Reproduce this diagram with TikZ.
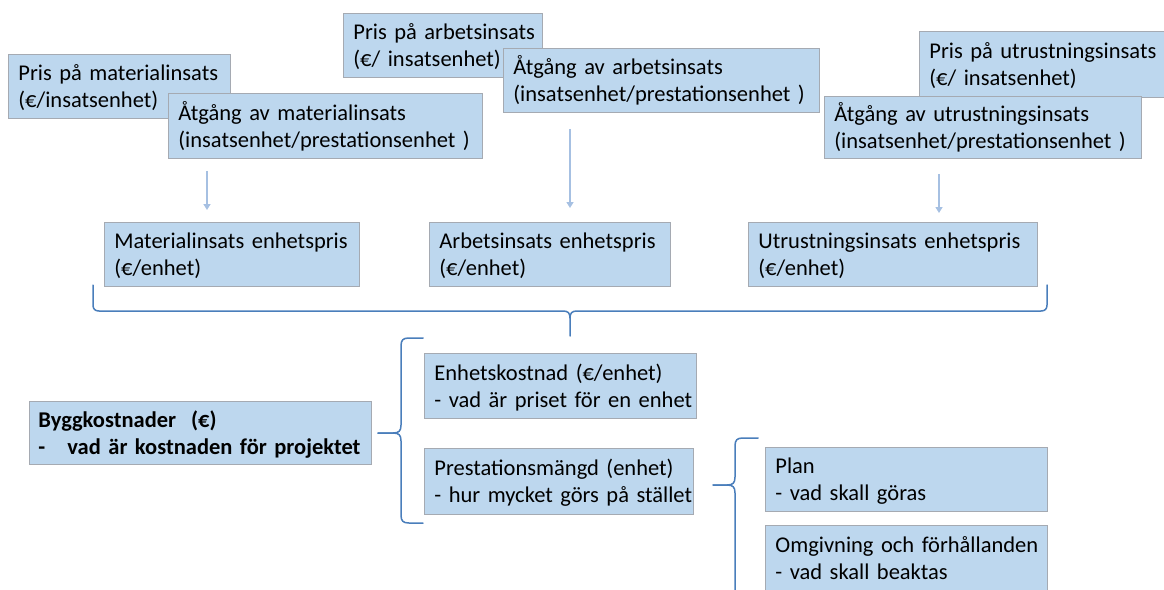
\documentclass[tikz,border=0pt]{standalone}
\usepackage{fontspec}
\setmainfont{Carlito}
\usetikzlibrary{arrows.meta}
\definecolor{boxfill}{RGB}{189,215,238}
\definecolor{boxline}{RGB}{165,170,178}
\definecolor{arrowc}{RGB}{166,192,226}
\definecolor{bracec}{RGB}{74,126,187}
% two left-aligned lines that never wrap
\newcommand{\boxlines}[2]{\begin{tabular}{@{}l@{}}\rule{0pt}{24pt}#1\\#2\end{tabular}}

\begin{document}
\begin{tikzpicture}[x=1pt,y=-1pt,
  box/.style={draw=boxline, fill=boxfill, line width=0.8pt, anchor=north west,
    inner xsep=10pt, inner ysep=0pt,
    font=\fontsize{22.5}{27}\selectfont},
  arr/.style={draw=arrowc, line width=1.6pt, -{Triangle[length=6pt,width=7pt]}},
  brc/.style={draw=bracec, line width=1.5pt, line cap=round, line join=round}]
\useasboundingbox (0,0) rectangle (1164,589);
\clip (0,0) rectangle (1164,589);

% --- inputs: price and consumption per resource
\node[box, text width=202pt, minimum height=64pt] (prM) at (8,54)
  {\boxlines{Pris på materialinsats}{(€/insatsenhet)}};
\node[box, text width=294pt, minimum height=65pt] (atgM) at (168,93)
  {\boxlines{Åtgång av materialinsats}{(insatsenhet/prestationsenhet )}};

\node[box, text width=179pt, minimum height=64pt] (prA) at (343,13)
  {\boxlines{Pris på arbetsinsats}{(€/ insatsenhet)}};
\node[box, text width=296pt, minimum height=64pt] (atgA) at (503,48)
  {\boxlines{Åtgång av arbetsinsats}{(insatsenhet/prestationsenhet )}};

\node[box, text width=233pt, minimum height=66pt] (prU) at (919,31)
  {\boxlines{Pris på utrustningsinsats}{(€/ insatsenhet)}};
\node[box, text width=297pt, minimum height=62pt] (atgU) at (824,96)
  {\boxlines{Åtgång av utrustningsinsats}{(insatsenhet/prestationsenhet )}};

% --- unit prices
\node[box, text width=235pt, minimum height=64pt] (encM) at (104,222)
  {\boxlines{Materialinsats enhetspris}{(€/enhet)}};
\node[box, text width=221pt, minimum height=64pt] (encA) at (429,222)
  {\boxlines{Arbetsinsats enhetspris}{(€/enhet)}};
\node[box, text width=269pt, minimum height=64pt] (encU) at (748,222)
  {\boxlines{Utrustningsinsats enhetspris}{(€/enhet)}};

% --- cost breakdown
\node[box, text width=324pt, inner xsep=9pt, minimum height=63pt] (bygg) at (29,401)
  {\bfseries\boxlines{Byggkostnader\ \ (€)}{\makebox[29pt][l]{-}vad är kostnaden för projektet}};
\node[box, text width=252pt, minimum height=65pt] (enhk) at (424,353)
  {\boxlines{Enhetskostnad (€/enhet)}{- vad är priset för en enhet}};
\node[box, text width=249pt, minimum height=66pt] (prest) at (424,448)
  {\boxlines{Prestationsmängd (enhet)}{- hur mycket görs på stället}};
\node[box, text width=262pt, minimum height=64pt] (plan) at (765,447)
  {\boxlines{Plan}{- vad skall göras}};
\node[box, text width=262pt, minimum height=66pt] (omg) at (765,525)
  {\boxlines{Omgivning och förhållanden}{- vad skall beaktas}};

% --- arrows from consumption to unit price
\draw[arr] ([shift={(39,12)}]atgM.south west) -- ([shift={(103,-12)}]encM.north west);
\draw[arr] ([shift={(67,16)}]atgA.south west) -- ([shift={(141,-14)}]encA.north west);
\draw[arr] ([shift={(115,15)}]atgU.south west) -- ([shift={(191,-9)}]encU.north west);

% --- horizontal brace under the unit prices
\draw[brc] (93,285) -- (93,305) .. controls (93,309) and (95,311) .. (99,311)
  -- (563,311) .. controls (568,311) and (570,313) .. (570,318) -- (570,336);
\draw[brc] (570,318) .. controls (570,313) and (572,311) .. (577,311)
  -- (1041,311) .. controls (1045,311) and (1047,309) .. (1047,305) -- (1047,285);

% --- brace: construction cost = unit cost x quantity
\draw[brc] (423,338) -- (409,338) .. controls (403,338) and (401,340) .. (401,346)
  -- (401,425) .. controls (401,431) and (399,433) .. (393,433) -- (378,433);
\draw[brc] (378,433) -- (393,433) .. controls (399,433) and (401,435) .. (401,441)
  -- (401,515) .. controls (401,521) and (403,523) .. (409,523) -- (423,523);

% --- brace: quantity depends on plan and surroundings
\draw[brc] (758,438) -- (743,438) .. controls (737,438) and (735,440) .. (735,446)
  -- (735,477) .. controls (735,483) and (733,485) .. (727,485) -- (713,485);
\draw[brc] (713,485) -- (727,485) .. controls (733,485) and (735,487) .. (735,493)
  -- (735,620);
\end{tikzpicture}
\end{document}
